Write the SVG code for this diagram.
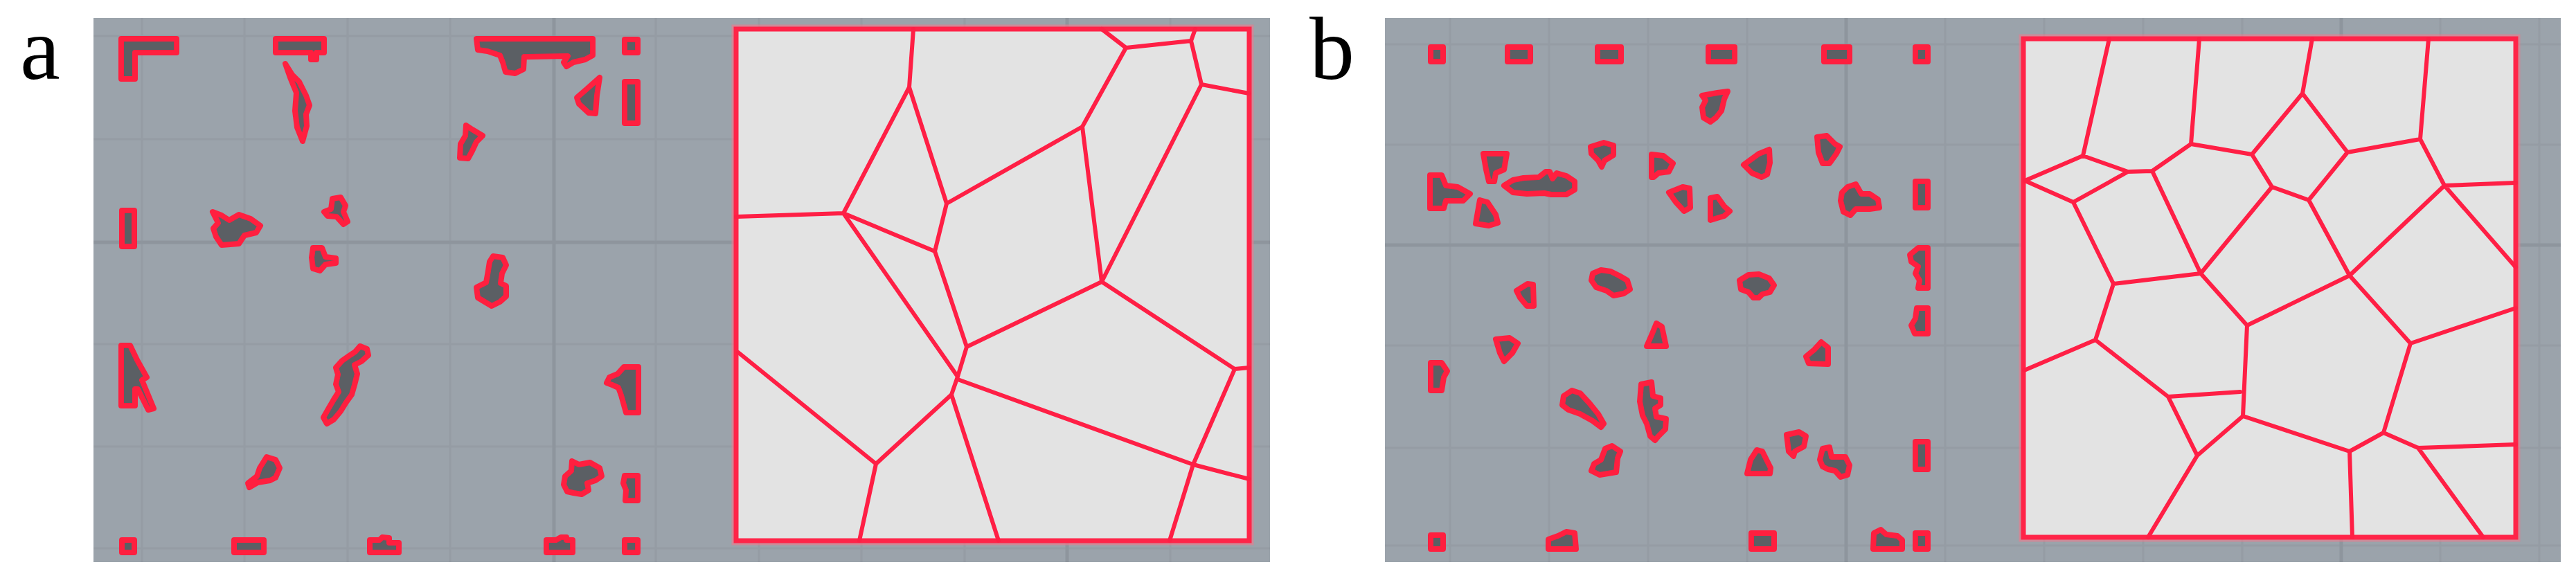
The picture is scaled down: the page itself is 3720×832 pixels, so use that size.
<svg xmlns="http://www.w3.org/2000/svg" width="3720" height="832" viewBox="0 0 3720 832">
<style>
.bg{fill:#9ba3ab}
.grid{stroke:#959ca4;stroke-width:3;fill:none}
.major{stroke:#8e959d;stroke-width:5;fill:none}
.blob{fill:#5b5f64;stroke:#ff1f3f;stroke-width:8;stroke-linejoin:round}
.sq{fill:#e3e3e3;stroke:#ff2448;stroke-width:7}
.halo{fill:none;stroke:#f07a8c;stroke-width:13;stroke-opacity:0.6}
.edge{fill:none;stroke:#ff1f45;stroke-width:6;stroke-linejoin:round;stroke-linecap:round}
.lbl{font-family:"Liberation Serif","DejaVu Serif",serif;font-size:130px;fill:#000}
</style>
<rect width="3720" height="832" fill="#ffffff"/>
<text class="lbl" x="29" y="114">a</text>
<text class="lbl" x="1891" y="114">b</text>

<g id="panel-a">
<rect class="bg" x="135" y="26" width="1699" height="786"/>
<path class="grid" d="M205,26V812M353,26V812M502,26V812M650,26V812M947,26V812M1096,26V812M1244,26V812M1393,26V812M1690,26V812M135,52H1834M135,201H1834M135,497H1834M135,645H1834M135,792H1834"/>
<path class="major" d="M800,26V812M1541,26V812M135,350H1834"/>

<g id="a-blobs">
<path class="blob" d="M175,56H255V76H195V114H175Z"/>
<path class="blob" d="M398,56H468V76H457V86H449V76H398Z"/>
<path class="blob" d="M412,92L422,108L432,118L442,138L447,152L442,165L443,182L437,204L429,184L426,160L428,134L419,112Z"/>
<path class="blob" d="M688,56H856V80L845,86L828,90L818,96L814,90L820,81L757,82L756,100L744,106L730,104L726,90L722,80L704,74L690,72Z"/>
<rect class="blob" x="902" y="57" width="19" height="19"/>
<path class="blob" d="M866,112L862,138L860,164L850,163L836,150L833,141L848,128Z"/>
<rect class="blob" x="902" y="118" width="19" height="60"/>
<path class="blob" d="M673,181L682,187L697,196L688,205L682,218L676,229L664,228L665,208L672,196Z"/>
<rect class="blob" x="176" y="304" width="18" height="52"/>
<path class="blob" d="M307,306L320,311L331,318L345,310L362,316L376,326L370,336L353,340L345,352L320,354L312,342L308,330L315,322Z"/>
<path class="blob" d="M480,287L492,285L499,297L496,306L502,320L496,324L486,313L473,312L468,306L478,302Z"/>
<path class="blob" d="M452,358L465,358L470,371L485,373L485,380L470,382L462,391L452,388L450,372Z"/>
<path class="blob" d="M712,370L726,372L731,383L725,395L723,409L731,413L731,428L722,436L710,442L700,436L690,430L688,415L702,408L705,391L707,378Z"/>
<path class="blob" d="M175,499L188,499L198,520L212,545L205,549L222,590L214,592L199,562L195,562L195,586L175,586Z"/>
<path class="blob" d="M520,500L530,504L532,513L522,522L512,527L516,540L512,556L508,570L500,581L492,594L482,606L472,612L467,603L475,589L482,577L489,566L485,555L488,541L485,531L494,521L504,514L513,508Z"/>
<path class="blob" d="M385,660L398,664L404,676L398,690L390,694L372,697L360,704L358,698L371,688L375,676Z"/>
<path class="blob" d="M901,530L922,530L922,596L904,596L897,571L893,560L884,556L876,553L880,545L892,540Z"/>
<path class="blob" d="M826,666L836,671L852,668L866,676L869,688L860,694L848,698L850,708L840,714L828,712L819,710L814,700L816,688L825,680Z"/>
<path class="blob" d="M902,687L921,687L921,723L903,723L904,708L900,698Z"/>
<rect class="blob" x="176" y="780" width="18" height="18"/>
<rect class="blob" x="338" y="780" width="43" height="18"/>
<path class="blob" d="M534,780H548L552,776L562,777L562,784H576V798H534Z"/>
<path class="blob" d="M789,780H803L810,776L818,776L818,780H827V798H789Z"/>
<rect class="blob" x="902" y="780" width="19" height="18"/>
</g>

<g id="a-voronoi">
<rect class="halo" x="1063" y="42" width="741" height="739"/>
<rect class="sq" x="1063" y="42" width="741" height="739"/>
<path class="edge" d="M1319,42L1313,126M1313,126L1218,308M1313,126L1367,294M1218,308L1063,313M1218,308L1350,363M1367,294L1350,363M1367,294L1563,183M1563,183L1626,69M1626,69L1591,42M1626,69L1720,59M1720,59L1726,42M1720,59L1735,122M1735,122L1804,135M1563,183L1591,407M1735,122L1591,407M1350,363L1396,501M1591,407L1396,501M1591,407L1783,533M1783,533L1804,531M1218,308L1383,544M1396,501L1383,544M1383,544L1374,570M1383,548L1723,671M1374,570L1265,670M1374,570L1442,781M1066,509L1265,670M1265,670L1241,781M1783,533L1723,671M1723,671L1804,692M1723,671L1689,781"/>
</g>
</g>

<g id="panel-b">
<rect class="bg" x="2000" y="26" width="1698" height="786"/>
<path class="grid" d="M2094,26V812M2237,26V812M2380,26V812M2523,26V812M2809,26V812M2952,26V812M3095,26V812M3238,26V812M3524,26V812M3667,26V812M2000,64H3698M2000,209H3698M2000,499H3698M2000,647H3698M2000,788H3698"/>
<path class="major" d="M2666,26V812M3381,26V812M2000,354H3698"/>

<g id="b-blobs">
<rect class="blob" x="2066" y="68" width="18" height="21"/>
<rect class="blob" x="2177" y="68" width="33" height="21"/>
<rect class="blob" x="2307" y="68" width="34" height="21"/>
<rect class="blob" x="2467" y="68" width="38" height="21"/>
<rect class="blob" x="2634" y="68" width="37" height="21"/>
<rect class="blob" x="2766" y="68" width="18" height="21"/>
<path class="blob" d="M2458,138L2480,134L2495,132L2490,143L2486,160L2478,170L2470,176L2460,170L2458,155L2463,145Z"/>
<path class="blob" d="M2297,212L2316,206L2330,210L2330,224L2317,232L2313,241L2308,232L2298,222Z"/>
<path class="blob" d="M2624,198L2638,196L2650,208L2657,212L2652,222L2642,236L2632,236L2626,220Z"/>
<path class="blob" d="M2142,222L2176,222L2172,245L2160,250L2158,262L2150,262L2146,245Z"/>
<path class="blob" d="M2385,223L2402,225L2416,236L2410,248L2395,250L2388,256L2385,256Z"/>
<path class="blob" d="M2518,238L2540,222L2555,216L2556,235L2552,252L2544,256L2530,250Z"/>
<path class="blob" d="M2065,253L2082,253L2088,268L2105,270L2123,280L2113,290L2088,290L2085,301L2065,301Z"/>
<path class="blob" d="M2172,268L2185,260L2200,257L2222,256L2232,248L2238,248L2242,258L2248,250L2262,254L2274,262L2274,274L2262,281L2240,281L2230,279L2205,280L2185,278Z"/>
<path class="blob" d="M2137,289L2148,292L2160,310L2163,322L2150,326L2131,323Z"/>
<path class="blob" d="M2410,278L2430,270L2440,272L2441,300L2432,305L2420,292Z"/>
<path class="blob" d="M2470,286L2480,284L2490,298L2498,305L2490,312L2470,318Z"/>
<path class="blob" d="M2668,270L2680,266L2688,280L2700,280L2712,288L2714,300L2700,302L2680,302L2672,311L2662,306L2658,290L2660,278Z"/>
<rect class="blob" x="2766" y="262" width="18" height="38"/>
<path class="blob" d="M2770,358L2784,358L2784,416L2770,416L2772,405L2766,395L2770,385L2760,378L2758,368Z"/>
<path class="blob" d="M2300,395L2312,390L2326,392L2338,398L2350,405L2354,418L2345,424L2330,427L2320,420L2305,415L2298,405Z"/>
<path class="blob" d="M2512,405L2525,397L2540,396L2555,402L2562,412L2556,422L2545,425L2540,430L2532,430L2525,422L2514,418Z"/>
<path class="blob" d="M2190,420L2206,410L2214,411L2215,442L2205,442L2195,430Z"/>
<path class="blob" d="M2768,445L2784,445L2784,482L2765,482L2760,470L2766,460Z"/>
<path class="blob" d="M2392,467L2400,472L2406,500L2378,500L2385,484Z"/>
<path class="blob" d="M2160,490L2180,488L2192,496L2184,510L2172,522L2166,510Z"/>
<path class="blob" d="M2630,494L2640,502L2640,526L2612,525L2608,515L2620,505Z"/>
<path class="blob" d="M2066,524L2082,524L2090,536L2085,545L2082,564L2066,564Z"/>
<path class="blob" d="M2258,572L2270,564L2282,568L2295,582L2308,598L2316,612L2312,617L2300,608L2282,598L2265,592L2256,585Z"/>
<path class="blob" d="M2370,555L2385,552L2387,572L2398,575L2398,585L2390,590L2392,602L2406,605L2405,620L2395,630L2390,636L2383,630L2378,612L2372,600L2368,580Z"/>
<path class="blob" d="M2580,628L2598,624L2608,630L2605,645L2592,652L2590,659L2583,652Z"/>
<path class="blob" d="M2632,648L2642,646L2645,660L2665,660L2671,672L2668,686L2658,689L2650,680L2640,678L2632,674L2628,664Z"/>
<rect class="blob" x="2766" y="638" width="18" height="40"/>
<path class="blob" d="M2318,648L2328,644L2340,652L2336,662L2334,682L2310,686L2298,680L2302,670L2312,664Z"/>
<path class="blob" d="M2537,650L2545,652L2557,676L2556,684L2523,684L2528,664Z"/>
<rect class="blob" x="2066" y="773" width="18" height="20"/>
<path class="blob" d="M2236,779L2250,774L2262,768L2274,770L2276,793L2236,793Z"/>
<rect class="blob" x="2529" y="770" width="33" height="23"/>
<path class="blob" d="M2706,770L2716,765L2724,772L2740,774L2747,780L2747,793L2705,793Z"/>
<rect class="blob" x="2766" y="770" width="18" height="23"/>
</g>

<g id="b-voronoi">
<rect class="halo" x="2922" y="56" width="711" height="720"/>
<rect class="sq" x="2922" y="56" width="711" height="720"/>
<path class="edge" d="M3046,56L3008,225M3176,56L3164,208M3339,56L3325,135M3507,56L3495,201M2924,261L3008,225L3073,248L2994,292L2924,261M3073,248L3108,247M3164,208L3108,247M3164,208L3252,223M3325,135L3252,223M3325,135L3390,220M3390,220L3495,201M3252,223L3281,270M3281,270L3334,289M3390,220L3334,289M3495,201L3530,268M3530,268L3633,264M3530,268L3633,386M3530,268L3393,398M3334,289L3393,398M3108,247L3178,395M3281,270L3178,395M2994,292L3052,410M3052,410L3178,395M3178,395L3245,470M3393,398L3245,470M3393,398L3481,496M3481,496L3633,445M3052,410L3026,491M3026,491L2923,535M3026,491L3131,573M3131,573L3235,566M3245,470L3239,601M3131,573L3173,658M3239,601L3173,658M3173,658L3102,776M3239,601L3393,652M3393,652L3397,776M3393,652L3442,625M3481,496L3442,625M3442,625L3492,647M3492,647L3633,642M3492,647L3586,776"/>
</g>
</g>
</svg>
